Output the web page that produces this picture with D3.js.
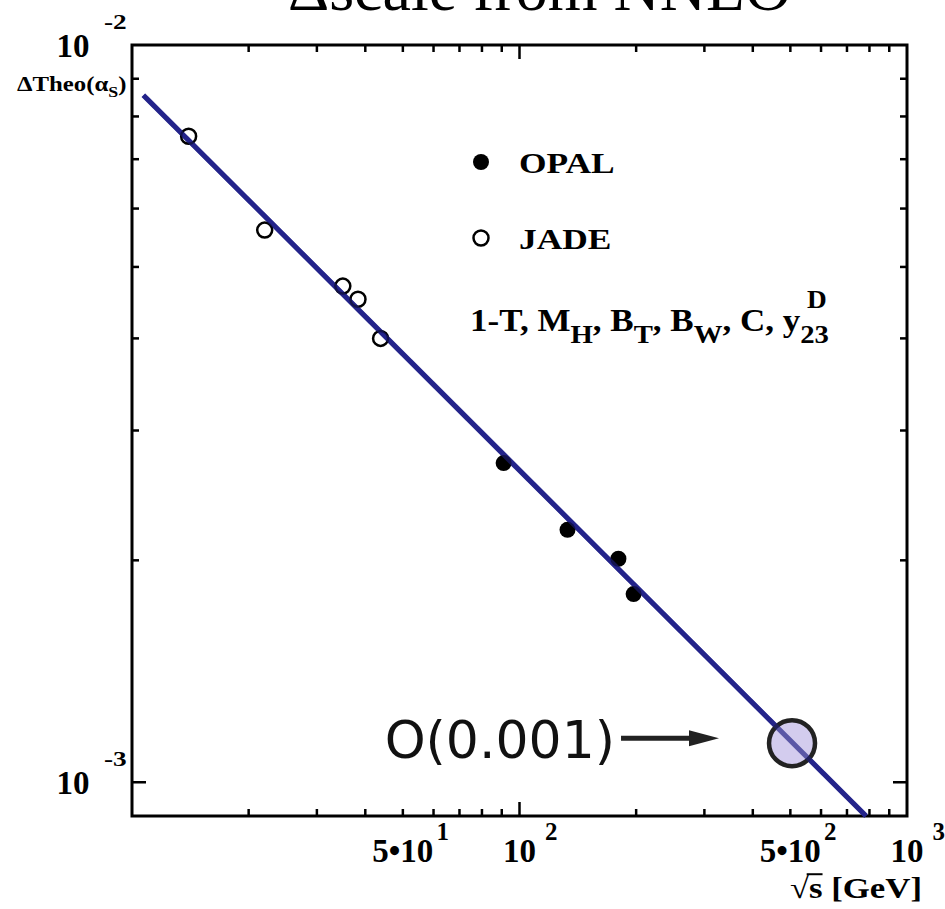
<!DOCTYPE html>
<html>
<head>
<meta charset="utf-8">
<script src="https://cdn.jsdelivr.net/npm/d3@7"></script>
<style>
  html, body { margin: 0; padding: 0; background: #fff; }
  svg { display: block; }
  .serif { font-family: "Liberation Serif", "Times New Roman", serif; }
</style>
</head>
<body>
<svg id="chart" width="945" height="909"></svg>
<script>
// Scale uncertainty of alpha_s versus centre-of-mass energy
const jadeEnergy = [14, 22, 35, 38.3, 43.8];
const jadeDelta  = [0.00752, 0.00561, 0.00471, 0.00452, 0.00400];
const opalEnergy = [91, 133, 180, 197];
const opalDelta  = [0.00271, 0.00220, 0.00201, 0.00180];
// straight-line extrapolation (power law) drawn across the frame
const fitEnergy  = [10.7, 784];
const fitDelta   = [0.00855, 0.0009];
// projected point at a future linear collider
const projEnergy = [505];
const projDelta  = [0.00113];
const projLabel  = "O(0.001)";

const xDomain = [10, 1000];
const yDomain = [0.0009, 0.01];
const xMinorTicks = [20, 30, 40, 50, 60, 70, 80, 90, 200, 300, 400, 500, 600, 700, 800, 900];
const xMajorTicks = [100];
const yMinorTicks = [0.002, 0.003, 0.004, 0.005, 0.006, 0.007, 0.008, 0.009];
const yMajorTicks = [0.001, 0.01];
const xLabelValues = [50, 100, 500, 1000];
const xLabelBase   = ["5•10", "10", "5•10", "10"];
const xLabelExp    = ["1", "2", "2", "3"];
const yLabelValues = [0.01, 0.001];
const yLabelBase   = ["10", "10"];
const yLabelExp    = ["-2", "-3"];
const legendNames  = ["OPAL", "JADE"];

const svg = d3.select("#chart");
const pLeft = 132, pRight = 907, pTop = 45, pBottom = 816;
const STRETCH = 1.18;   // bold labels are set slightly wide

const x = d3.scaleLog().domain(xDomain).range([pLeft, pRight]);
const y = d3.scaleLog().domain(yDomain).range([pBottom, pTop]);

// group whose contents are stretched horizontally about x0
function wide(x0, sx) {
  return svg.append("g")
    .attr("transform", `translate(${x0},0) scale(${sx},1) translate(${-x0},0)`);
}

// title, partly above the page edge
svg.append("text").attr("class", "serif")
  .attr("x", 288).attr("y", 10)
  .attr("font-size", 64).attr("fill", "#000")
  .text("Δscale from NNLO");

// frame
svg.append("rect")
  .attr("x", pLeft).attr("y", pTop)
  .attr("width", pRight - pLeft).attr("height", pBottom - pTop)
  .attr("fill", "none").attr("stroke", "#000").attr("stroke-width", 3);

// ticks on all four sides, pointing inwards
const tickG = svg.append("g").attr("stroke", "#000").attr("stroke-width", 2.5);
function xTicks(vals, len) {
  vals.forEach(v => {
    tickG.append("line").attr("x1", x(v)).attr("x2", x(v)).attr("y1", pBottom).attr("y2", pBottom - len);
    tickG.append("line").attr("x1", x(v)).attr("x2", x(v)).attr("y1", pTop).attr("y2", pTop + len);
  });
}
function yTicks(vals, len) {
  vals.forEach(v => {
    tickG.append("line").attr("y1", y(v)).attr("y2", y(v)).attr("x1", pLeft).attr("x2", pLeft + len);
    tickG.append("line").attr("y1", y(v)).attr("y2", y(v)).attr("x1", pRight).attr("x2", pRight - len);
  });
}
xTicks(xMinorTicks, 7);
xTicks(xMajorTicks, 14);
yTicks(yMinorTicks, 7);
yTicks(yMajorTicks.filter(v => y(v) > pTop + 2), 14);

// x tick labels: mantissa centred on tick, exponent raised to the right
xLabelValues.forEach((v, i) => {
  const base = svg.append("text").attr("class", "serif")
    .attr("font-size", 33).attr("font-weight", "bold")
    .attr("text-anchor", "middle")
    .attr("x", x(v)).attr("y", 862).text(xLabelBase[i]);
  const w = base.node().getComputedTextLength();
  const gap = xLabelBase[i].length === 2 ? 9 : 3;
  svg.append("text").attr("class", "serif")
    .attr("font-size", 25).attr("font-weight", "bold")
    .attr("x", x(v) + w / 2 + gap).attr("y", 840).text(xLabelExp[i]);
});

// y tick labels
yLabelValues.forEach((v, i) => {
  svg.append("text").attr("class", "serif")
    .attr("font-size", 33).attr("font-weight", "bold")
    .attr("text-anchor", "middle")
    .attr("x", 73).attr("y", y(v) + 12).text(yLabelBase[i]);
  wide(104, 1.3).append("text").attr("class", "serif")
    .attr("font-size", 21).attr("font-weight", "bold")
    .attr("x", 104).attr("y", y(v) - 16).text(yLabelExp[i]);
});

// lay out a run of text pieces (base / sub / sup) from a starting point
function richText(x0, y0, size, sx, pieces) {
  const g = wide(x0, sx).attr("class", "serif").attr("font-weight", "bold");
  let cx = x0;
  let lastBaseEnd = x0;
  pieces.forEach(p => {
    const fs = size * (p.scale || 1);
    const px = p.at === "prev" ? lastBaseEnd + (p.dx || 0) : cx;
    const t = g.append("text").attr("font-size", fs)
      .attr("x", px).attr("y", y0 + (p.dy || 0)).text(p.t);
    const w = t.node().getComputedTextLength();
    if (!p.dy) lastBaseEnd = px + w;
    if (!p.stay) cx = px + w;
  });
  return g;
}

// y axis title
richText(17, 91, 21, STRETCH, [
  { t: "ΔTheo(α" },
  { t: "S", scale: 0.72, dy: 6 },
  { t: ")" }
]);

// x axis title with radical sign over s
const xTitleG = wide(922, 1.16);
const xTitle = xTitleG.append("text").attr("class", "serif")
  .attr("font-size", 30).attr("font-weight", "bold")
  .attr("text-anchor", "end").attr("x", 922).attr("y", 898);
xTitle.append("tspan").text("√");
xTitle.append("tspan").text("s");
xTitle.append("tspan").text(" [GeV]");
{
  const rad = xTitle.node().getExtentOfChar(0);
  const s = xTitle.node().getExtentOfChar(1);
  xTitleG.append("line")
    .attr("x1", rad.x + rad.width - 2).attr("x2", s.x + s.width)
    .attr("y1", rad.y + 3).attr("y2", rad.y + 3)
    .attr("stroke", "#000").attr("stroke-width", 2);
}

// legend
const legendY = [162, 238];
svg.append("circle").attr("cx", 481).attr("cy", legendY[0]).attr("r", 8).attr("fill", "#000");
svg.append("circle").attr("cx", 481).attr("cy", legendY[1]).attr("r", 7.5)
  .attr("fill", "#fff").attr("stroke", "#000").attr("stroke-width", 2.5);
legendNames.forEach((n, i) => {
  wide(519, STRETCH).append("text").attr("class", "serif")
    .attr("font-size", 30).attr("font-weight", "bold")
    .attr("x", 519).attr("y", legendY[i] + 11).text(n);
});
richText(470, 331, 31, 1.13, [
  { t: "1-T, M" },
  { t: "H", scale: 0.82, dy: 12 },
  { t: ", B" },
  { t: "T", scale: 0.82, dy: 12 },
  { t: ", B" },
  { t: "W", scale: 0.82, dy: 12 },
  { t: ", C, y" },
  { t: "D", scale: 0.78, dy: -23, at: "prev", dx: 6, stay: true },
  { t: "23", scale: 0.82, dy: 12, at: "prev", dx: 0 }
]);

// fitted line
const fit = fitEnergy.map((s, i) => ({ s, v: fitDelta[i] }));
const fitPath = d3.line().x(d => x(d.s)).y(d => y(d.v));
svg.append("path").datum(fit)
  .attr("d", fitPath)
  .attr("fill", "none").attr("stroke", "#2b2b99").attr("stroke-width", 5);

// JADE: open circles
const jade = jadeEnergy.map((s, i) => ({ s, v: jadeDelta[i] }));
svg.append("g").selectAll("circle").data(jade).join("circle")
  .attr("cx", d => x(d.s)).attr("cy", d => y(d.v)).attr("r", 7.5)
  .attr("fill", "none").attr("stroke", "#000").attr("stroke-width", 2.5);

// OPAL: filled circles
const opal = opalEnergy.map((s, i) => ({ s, v: opalDelta[i] }));
svg.append("g").selectAll("circle").data(opal).join("circle")
  .attr("cx", d => x(d.s)).attr("cy", d => y(d.v)).attr("r", 8)
  .attr("fill", "#000");

// projected point with annotation arrow
const proj = projEnergy.map((s, i) => ({ s, v: projDelta[i] }));
svg.append("g").selectAll("circle").data(proj).join("circle")
  .attr("cx", d => x(d.s)).attr("cy", d => y(d.v)).attr("r", 23)
  .attr("fill", "#cbc3eb").attr("fill-opacity", 0.85)
  .attr("stroke", "#222").attr("stroke-width", 4.5);
// the fit line shows through the translucent disc
svg.append("path").datum(fit)
  .attr("d", fitPath)
  .attr("fill", "none").attr("stroke", "#1e1e80").attr("stroke-width", 5)
  .attr("stroke-opacity", 0.6);

proj.forEach(d => {
  const px = x(d.s), py = y(d.v);
  const tipX = px - 73, ay = py - 5;
  svg.append("line")
    .attr("x1", tipX - 98).attr("x2", tipX - 22)
    .attr("y1", ay).attr("y2", ay)
    .attr("stroke", "#222").attr("stroke-width", 5);
  svg.append("path")
    .attr("d", `M${tipX - 30},${ay - 8} L${tipX},${ay} L${tipX - 30},${ay + 8} Z`)
    .attr("fill", "#222");
  svg.append("text")
    .attr("font-family", "DejaVu Sans, sans-serif")
    .attr("font-size", 52).attr("text-anchor", "end")
    .attr("x", tipX - 104).attr("y", py + 15).attr("fill", "#111")
    .text(projLabel);
});
</script>
</body>
</html>
